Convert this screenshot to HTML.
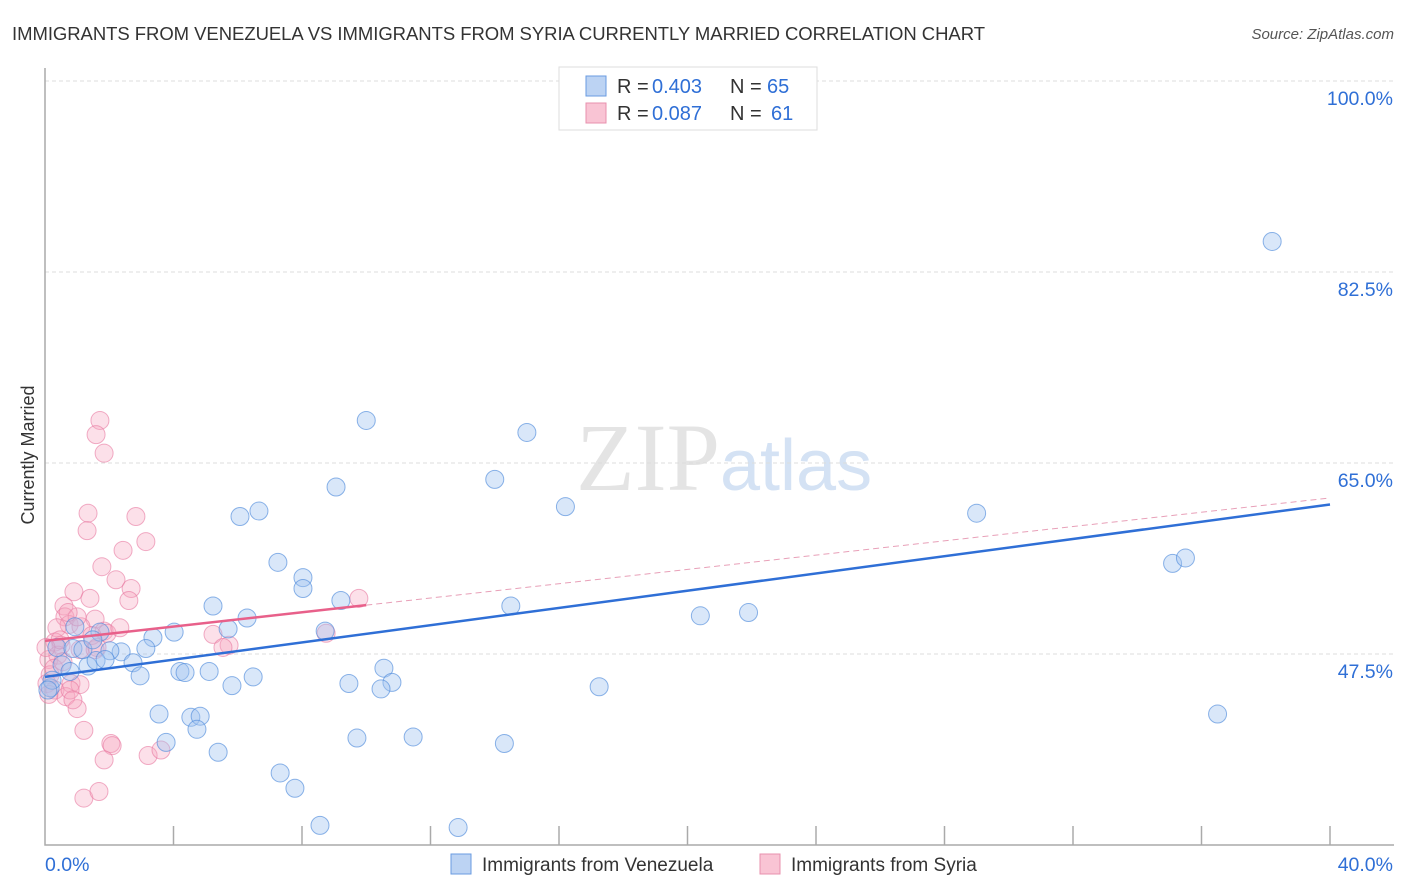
<!DOCTYPE html>
<html><head><meta charset="utf-8"><style>
body{margin:0;background:#fff;font-family:"Liberation Sans",sans-serif}
svg{display:block}
</style></head><body>
<svg id="chart" width="1406" height="892" xmlns="http://www.w3.org/2000/svg">
<text x="12" y="40" font-size="18.5" fill="#333" textLength="973">IMMIGRANTS FROM VENEZUELA VS IMMIGRANTS FROM SYRIA CURRENTLY MARRIED CORRELATION CHART</text>
<text x="1394" y="39" font-size="15" fill="#555" font-style="italic" text-anchor="end">Source: ZipAtlas.com</text>
<text x="720" y="490" font-size="96" fill="#e4e4e4" text-anchor="end" font-family="Liberation Serif,serif">ZIP</text>
<text x="720" y="490" font-size="72" fill="#d4e2f4">atlas</text>
<text transform="translate(34,455) rotate(-90)" font-size="18" fill="#333" text-anchor="middle">Currently Married</text>
<g id="grid"></g><g id="axes"></g><g id="pts"></g><g id="trend"></g>
<g>
<rect x="559" y="67" width="258" height="63" fill="#fff" stroke="#ddd"/>
<rect x="586" y="76" width="20" height="20" fill="#bcd3f3" stroke="#6a9be0"/>
<rect x="586" y="103" width="20" height="20" fill="#f9c4d4" stroke="#e890ae"/>
<text x="617" y="93" font-size="20" fill="#333">R =</text><text x="652" y="93" font-size="20" fill="#2f6fd6">0.403</text>
<text x="730" y="93" font-size="20" fill="#333">N =</text><text x="767" y="93" font-size="20" fill="#2f6fd6">65</text>
<text x="617" y="120" font-size="20" fill="#333">R =</text><text x="652" y="120" font-size="20" fill="#2f6fd6">0.087</text>
<text x="730" y="120" font-size="20" fill="#333">N =</text><text x="771" y="120" font-size="20" fill="#2f6fd6">61</text>
</g>
<g>
<rect x="451" y="854" width="20" height="20" fill="#bcd3f3" stroke="#6a9be0"/>
<text x="482" y="871" font-size="19" fill="#333">Immigrants from Venezuela</text>
<rect x="760" y="854" width="20" height="20" fill="#f9c4d4" stroke="#e890ae"/>
<text x="791" y="871" font-size="19" fill="#333">Immigrants from Syria</text>
</g>
</svg>
<script>
const yTicks=[100,82.5,65,47.5];
const yTickLabels=["100.0%","82.5%","65.0%","47.5%"];
const xTickLabels=["0.0%","40.0%"];
const blueX=[38.2,10.0,15.0,9.06,14.0,6.07,6.66,16.2,29.0,35.1,35.5,7.25,8.03,8.03,5.23,6.29,9.21,14.5,20.4,21.9,4.02,3.36,5.70,8.72,3.14,2.37,2.02,2.74,2.96,4.20,4.36,5.11,6.48,5.82,10.55,10.8,9.46,10.46,17.25,36.5,3.55,4.54,4.83,4.73,3.77,5.39,9.71,11.46,14.3,7.32,7.78,8.56,12.86,0.37,0.53,0.78,0.16,1.34,1.59,1.87,0.93,0.87,0.22,0.09,1.18,1.71,1.49];
const blueY=[85.3,68.9,67.8,62.8,63.5,60.1,60.6,61.0,60.4,55.8,56.3,55.9,54.5,53.5,51.9,50.8,52.4,51.9,51.0,51.3,49.5,49.0,49.8,49.6,48.0,47.7,47.8,46.7,45.5,45.9,45.8,45.9,45.4,44.6,46.2,44.9,44.8,44.3,44.5,42.0,42.0,41.7,41.8,40.6,39.4,38.5,39.8,39.9,39.3,36.6,35.2,31.8,31.6,48.1,46.5,45.9,44.4,46.4,46.9,47.0,50.0,48.0,45.1,44.2,47.9,49.5,48.8];
const pinkX=[1.71,1.59,1.84,1.34,2.83,1.31,3.14,2.43,1.77,2.21,0.90,1.40,2.68,2.61,9.77,0.59,0.62,1.56,0.75,1.12,1.84,5.23,1.93,8.75,5.73,5.54,0.37,0.31,0.50,1.09,1.56,0.12,0.16,0.06,0.31,0.81,0.65,1.09,1.00,1.21,2.05,2.09,1.84,3.21,3.61,1.21,1.68,0.40,0.47,1.00,0.72,1.46,0.03,0.78,0.87,0.28,0.56,0.12,1.62,2.33];
const pinkY=[68.9,67.6,65.9,60.4,60.1,58.8,57.8,57.0,55.5,54.3,53.2,52.6,53.5,52.4,52.6,51.9,50.9,50.7,50.2,50.0,49.6,49.3,49.4,49.4,48.3,48.1,49.9,48.6,48.3,47.9,47.9,47.0,45.6,44.8,44.2,44.8,43.6,44.7,42.5,40.5,39.3,39.1,37.8,38.2,38.7,34.3,34.9,47.4,48.8,50.9,51.3,49.2,48.1,44.2,43.3,46.2,46.8,43.8,48.1,49.9];
const blueTrend=[45.4,61.2];
const pinkTrend=[48.7,61.8];
const NS="http://www.w3.org/2000/svg";
const sx=v=>45+v/40*1285;
const sy=v=>845-(v-30)*10.914;
function mk(tag,attrs,parent){const e=document.createElementNS(NS,tag);for(const k in attrs)e.setAttribute(k,attrs[k]);parent.appendChild(e);return e;}
const grid=document.getElementById('grid'),axes=document.getElementById('axes'),pts=document.getElementById('pts'),trend=document.getElementById('trend');
yTicks.forEach((t,i)=>{
 const l=mk('line',{x1:45,x2:1394,y1:sy(t),y2:sy(t),stroke:'#ddd','stroke-dasharray':'4,3'},grid);
 
 
 const tx=mk('text',{x:1393,y:sy(t)+24,'font-size':19.5,fill:'#2f6fd6','text-anchor':'end'},grid);
 tx.textContent=yTickLabels[i];
 
 
});
const ax=mk('path',{d:'M45,68V845H1394',fill:'none',stroke:'#aaa','stroke-width':1.5},axes);


for(let i=1;i<=10;i++){const t=mk('line',{x1:sx(i*4),x2:sx(i*4),y1:826,y2:845,stroke:'#aaa','stroke-width':1.5},axes);
 
 }
[[0,'start'],[40,'end']].forEach((a,i)=>{const t=mk('text',{x:i?1393:45,y:871,'font-size':19.5,fill:'#2f6fd6','text-anchor':a[1]},axes);t.textContent=xTickLabels[i];
 
 });
function series(X,Y,fill,stroke,name){X.forEach((x,i)=>{const c=mk('circle',{cx:sx(x),cy:sy(Y[i]),r:9,fill:fill,stroke:stroke,'stroke-width':1},pts);
 
 });}
series(pinkX,pinkY,'rgba(245,165,192,0.35)','rgba(232,120,160,0.6)','syria-point');
series(blueX,blueY,'rgba(160,195,240,0.4)','rgba(80,140,220,0.65)','venezuela-point');
const bl=mk('line',{x1:sx(0),y1:sy(blueTrend[0]),x2:sx(40),y2:sy(blueTrend[1]),stroke:'#2f6fd6','stroke-width':2.5},trend);


const pAt=x=>pinkTrend[0]+(pinkTrend[1]-pinkTrend[0])*x/40;
const pd=mk('line',{x1:sx(10),y1:sy(pAt(10)),x2:sx(40),y2:sy(pinkTrend[1]),stroke:'#e8a0b8','stroke-width':1,'stroke-dasharray':'6,4'},trend);


const ps=mk('line',{x1:sx(0),y1:sy(pinkTrend[0]),x2:sx(10),y2:sy(pAt(10)),stroke:'#e8608a','stroke-width':2.5},trend);


</script>
</body></html>
